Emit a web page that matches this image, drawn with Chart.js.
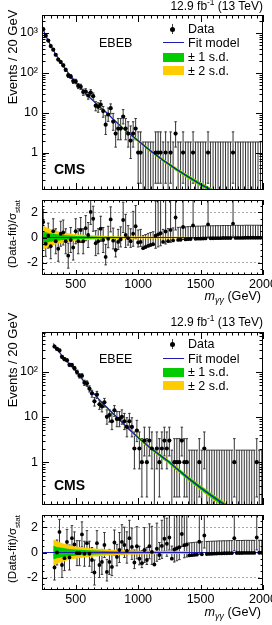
<!DOCTYPE html>
<html>
<head>
<meta charset="utf-8">
<script src="https://cdn.jsdelivr.net/npm/chart.js@4.4.0/dist/chart.umd.min.js"></script>
<style>
  body { margin: 0; background: #fff; width: 272px; height: 625px; position: relative; overflow: hidden;
         font-family: "Liberation Sans", Arial, sans-serif; color: #000; }
  canvas { position: absolute; left: 0; }
  .t { position: absolute; white-space: nowrap; line-height: 1; transform: translateY(-50%); }
  .rot { position: absolute; white-space: nowrap; line-height: 1; transform: translate(-50%, -50%) rotate(-90deg); }
  sub, sup { font-size: 0.7em; line-height: 0; }
  .box { position: absolute; width: 21px; height: 9px; }
  .fitl { position: absolute; width: 21px; height: 0; border-top: 1.5px solid #1c1cb4; }
  .dot { position: absolute; width: 5px; height: 5px; border-radius: 50%; background: #000; }
  .ebar { position: absolute; width: 1px; height: 10px; background: #444; }
</style>
</head>
<body>
<canvas id="ebebMain" width="272" height="195" style="top:0px"></canvas>
<canvas id="ebebPull" width="272" height="100" style="top:195px"></canvas>
<canvas id="ebeeMain" width="272" height="190" style="top:320px"></canvas>
<canvas id="ebeePull" width="272" height="100" style="top:510px"></canvas>

<!-- EBEB text -->
<div class="t" style="right:9px;top:6px;font-size:12px">12.9 fb<sup>-1</sup> (13 TeV)</div>
<div class="rot" style="left:12px;top:57px;font-size:13px">Events / 20 GeV</div>
<div class="t" style="left:99px;top:43px;font-size:12.5px">EBEB</div>
<div class="t" style="left:54px;top:169px;font-size:14px;font-weight:bold">CMS</div>
<div class="ebar" style="left:172px;top:24px"></div><div class="dot" style="left:170px;top:27px"></div>
<div class="t" style="left:188px;top:29px;font-size:12.5px">Data</div>
<div class="fitl" style="left:163px;top:42px"></div>
<div class="t" style="left:188px;top:43px;font-size:12.5px">Fit model</div>
<div class="box" style="left:163px;top:53px;background:#00cc00"></div>
<div class="t" style="left:188px;top:57px;font-size:12.5px">± 1 s.d.</div>
<div class="box" style="left:163px;top:66px;background:#ffcc00"></div>
<div class="t" style="left:188px;top:71px;font-size:12.5px">± 2 s.d.</div>
<div class="rot" style="left:13px;top:234px;font-size:11.5px">(Data-fit)/σ<sub>stat</sub></div>
<div class="t" style="right:11px;top:296px;font-size:12.6px"><i>m</i><sub><i>γγ</i></sub> (GeV)</div>

<!-- EBEE text -->
<div class="t" style="right:9px;top:322px;font-size:12px">12.9 fb<sup>-1</sup> (13 TeV)</div>
<div class="rot" style="left:12px;top:360px;font-size:13px">Events / 20 GeV</div>
<div class="t" style="left:99px;top:359px;font-size:12.5px">EBEE</div>
<div class="t" style="left:54px;top:485px;font-size:14px;font-weight:bold">CMS</div>
<div class="ebar" style="left:172px;top:339px"></div><div class="dot" style="left:170px;top:342px"></div>
<div class="t" style="left:188px;top:344px;font-size:12.5px">Data</div>
<div class="fitl" style="left:163px;top:358px"></div>
<div class="t" style="left:188px;top:359px;font-size:12.5px">Fit model</div>
<div class="box" style="left:163px;top:368px;background:#00cc00"></div>
<div class="t" style="left:188px;top:372px;font-size:12.5px">± 1 s.d.</div>
<div class="box" style="left:163px;top:381px;background:#ffcc00"></div>
<div class="t" style="left:188px;top:386px;font-size:12.5px">± 2 s.d.</div>
<div class="rot" style="left:13px;top:549px;font-size:11.5px">(Data-fit)/σ<sub>stat</sub></div>
<div class="t" style="right:11px;top:612px;font-size:12.6px"><i>m</i><sub><i>γγ</i></sub> (GeV)</div>

<script>
// ---- EBEB (barrel-barrel) ----
const massEBEB = [240,260,280,300,320,340,360,380,400,420,440,460,480,500,520,540,560,580,600,620,
  640,660,680,700,720,740,760,780,800,820,840,860,880,900,920,940,960,980,1000,1020,
  1040,1060,1080,1100,1120,1140,1160,1180,1200,1220,1240,1260,1280,1300,1320,1340,1360,1380,1400,1420,
  1440,1460,1480,1500,1520,1540,1560,1580,1600,1620,1640,1660,1680,1700,1720,1740,1760,1780,1800,1820,
  1840,1860,1880,1900,1920,1940,1960,1980];
const countsEBEB = [1245,852,644,468,381,284,215,187,154,119,
  86,81,62,61,47,45,33,34,27,32,
  26,15,14,16,11,5,9,13,6,3,
  4,4,8,4,3,2,3,4,1,1,
  0,0,0,0,0,1,1,1,0,1,
  0,1,0,3,0,0,1,0,0,0,
  1,0,0,0,0,0,1,0,0,0,
  0,0,0,0,0,0,1,0,0,0,
  0,0,0,0,0,0,0,0];
const pullEBEB = [1.24,-0.5,0.15,-0.7,0.5,-0.3,-0.9,0.3,0.4,-0.3,
  -1.45,-0.2,-0.8,0.5,-0.3,0.6,-0.3,0.75,0.2,2.05,
  1.5,-0.45,-0.3,0.7,-0.2,-1.55,-0.1,1.45,-0.25,-1.0,
  -0.35,-0.15,1.4,0.2,-0.05,-0.3,0.3,0.9,-0.4,-0.35,
  -0.85,-0.76,-0.67,-0.6,-0.54,0.14,0.25,0.34,-0.35,0.48,
  -0.29,0.61,-0.23,1.6,-0.19,-0.18,0.84,-0.15,-0.13,-0.12,
  0.96,-0.1,-0.09,-0.09,-0.08,-0.07,1.05,-0.06,-0.06,-0.05,
  -0.05,-0.05,-0.04,-0.04,-0.04,-0.04,1.1,-0.03,-0.03,-0.03,
  -0.03,-0.02,-0.02,-0.02,-0.02,-0.02,-0.02,-0.02];
const fitMassEBEB = [230,240,260,280,300,340,400,440,500,600,700,750,800,900,1000,1100,1200,1300,1400,1500,1600,1700];
const fitEBEB = [1432,1202,867,640,483,289,149,100,57.7,26.1,13.4,9.86,6.89,3.56,1.98,1.10,0.644,0.392,0.247,0.161,0.108,0.074];
const sd1EBEB = [0.012,0.012,0.012,0.013,0.014,0.015,0.017,0.019,0.022,0.027,0.033,0.037,0.042,0.05,0.06,0.068,0.075,0.082,0.088,0.094,0.1,0.105];
const sd2EBEB = [0.018,0.018,0.018,0.019,0.02,0.022,0.025,0.028,0.032,0.038,0.046,0.052,0.058,0.068,0.08,0.09,0.1,0.108,0.116,0.124,0.132,0.14];
const pullBandMassEBEB = [230,260,300,350,400,450,500,600,700,800,900,1000,1200,1400];
const pullSd1EBEB = [0.5,0.42,0.33,0.26,0.2,0.16,0.13,0.1,0.07,0.055,0.045,0.04,0.035,0.03];
const pullSd2EBEB = [1.0,0.85,0.66,0.52,0.4,0.32,0.26,0.2,0.14,0.11,0.09,0.08,0.07,0.06];

// ---- EBEE (barrel-endcap) ----
const massEBEE = [330,350,370,390,410,430,450,470,490,510,530,550,570,590,610,630,650,670,690,710,
  730,750,770,790,810,830,850,870,890,910,930,950,970,990,1010,1030,1050,1070,1090,1110,
  1130,1150,1170,1190,1210,1230,1250,1270,1290,1310,1330,1350,1370,1390,1410,1430,1450,1470,1490,1510,
  1530,1550,1570,1590,1610,1630,1650,1670,1690,1710,1730,1750,1770,1790,1810,1830,1850,1870,1890,1910,
  1930,1950,1970,1990];
const countsEBEE = [357,317,294,212,188,178,141,140,119,98,
  81,81,57,55,42,33,22,31,19,17,
  21,10,11,8,14,9,9,10,8,6,
  8,6,2,5,2,1,3,1,3,2,
  0,2,1,2,3,2,3,0,1,1,
  1,3,1,1,0,0,0,0,1,0,
  2,0,0,0,0,0,0,0,0,0,
  0,0,1,0,0,0,0,0,0,0,
  0,1,0,0];
const pullEBEE = [-1.2,0.0,1.65,-1.0,-0.45,0.85,-0.4,1.15,0.65,-0.05,
  -0.05,1.45,-0.1,0.75,-0.1,-0.6,-1.6,0.75,-1.0,-0.75,
  0.6,-1.55,-0.75,-1.15,0.8,-0.35,0.2,0.85,0.6,0.15,
  1.15,0.45,-0.8,0.5,-0.5,-0.85,0.2,-0.6,0.5,0.05,
  -0.96,0.3,-0.2,0.53,1.1,0.7,1.2,-0.49,0.24,0.34,
  0.43,1.48,0.58,0.64,-0.23,-0.21,-0.19,-0.17,0.86,-0.14,
  1.36,-0.12,-0.11,-0.1,-0.09,-0.08,-0.07,-0.07,-0.06,-0.06,
  -0.05,-0.05,1.14,-0.04,-0.04,-0.04,-0.03,-0.03,-0.03,-0.03,
  -0.03,1.21,-0.02,-0.02];
const fitMassEBEE = [320,330,350,370,400,450,510,550,600,700,800,830,900,1000,1100,1200,1250,1300,1400,1500,1600,1700,1750];
const fitEBEE = [418,380,317,267,209,146,98.2,68.8,45.6,22.1,11.7,9.86,6.28,3.48,2.04,1.26,1.0,0.756,0.445,0.272,0.171,0.111,0.0905];
const sd1EBEE = [0.014,0.014,0.014,0.014,0.015,0.017,0.019,0.021,0.024,0.03,0.038,0.042,0.048,0.057,0.066,0.075,0.08,0.085,0.093,0.1,0.107,0.113,0.116];
const sd2EBEE = [0.02,0.02,0.02,0.02,0.022,0.024,0.027,0.03,0.034,0.042,0.052,0.058,0.066,0.078,0.09,0.1,0.106,0.112,0.122,0.132,0.142,0.15,0.154];
const pullBandMassEBEE = [320,350,400,450,500,600,700,800,900,1000,1200,1400];
const pullSd1EBEE = [0.55,0.45,0.36,0.29,0.24,0.18,0.14,0.11,0.09,0.075,0.06,0.05];
const pullSd2EBEE = [1.05,0.9,0.72,0.58,0.48,0.36,0.28,0.22,0.18,0.15,0.12,0.1];

// 68% Poisson intervals for small counts
const poisLo = [0, 0.17, 0.71, 1.37, 2.09, 2.84, 3.62, 4.42, 5.23, 6.06, 6.89];
const poisHi = [1.84, 3.30, 4.64, 5.92, 7.16, 8.38, 9.58, 10.77, 11.95, 13.11, 14.27];

const FONT = '"Liberation Sans", Arial, sans-serif';
const BLUE = '#1c1cb4', GREEN = '#00cc00', YELLOW = '#ffcc00', BAR = '#333';
const X_MIN = 230, X_MAX = 2000;

function interval(n) {
  if (n <= 10) return [poisLo[n], poisHi[n]];
  const s = Math.sqrt(n);
  return [n - s, n + s];
}

const noLine = { borderColor: 'rgba(0,0,0,0)', borderWidth: 0, pointRadius: 0 };

function bandSets(xs, lower, upper, color, order) {
  return [
    Object.assign({ type: 'line', data: xs.map((x, i) => ({ x: x, y: upper[i] })), fill: false, order: order }, noLine),
    Object.assign({ type: 'line', data: xs.map((x, i) => ({ x: x, y: lower[i] })), fill: '-1', backgroundColor: color, order: order }, noLine)
  ];
}

function errorSets(mass, lows, highs, showLowCap) {
  const bars = [], caps = [];
  mass.forEach((m, i) => {
    bars.push({ x: m, y: lows[i] }, { x: m, y: highs[i] }, { x: m, y: null });
    caps.push({ x: m, y: highs[i] });
    if (showLowCap[i]) caps.push({ x: m, y: lows[i] });
  });
  return [
    { type: 'line', data: bars, borderColor: BAR, borderWidth: 1, pointRadius: 0, spanGaps: false, fill: false, order: 5 },
    { type: 'scatter', data: caps, pointStyle: 'line', pointRadius: 1.25, pointBorderWidth: 1, pointBorderColor: BAR, order: 5 }
  ];
}

function mainSets(mass, counts, fitMass, fit, sd1, sd2, yMin) {
  const lows = [], highs = [], pts = [];
  counts.forEach((n, i) => {
    const iv = interval(n);
    lows.push(n > 0 ? iv[0] : yMin / 3);
    highs.push(iv[1]);
    if (n > 0) pts.push({ x: mass[i], y: n });
  });
  const up = (sd) => fit.map((f, i) => f * (1 + sd[i]));
  const dn = (sd) => fit.map((f, i) => f * (1 - sd[i]));
  return [
    { type: 'scatter', data: pts, pointRadius: 2.1, backgroundColor: '#000', borderWidth: 0, order: 0 },
    { type: 'line', data: fitMass.map((m, i) => ({ x: m, y: fit[i] })), borderColor: BLUE, borderWidth: 1.2, pointRadius: 0, fill: false, order: 1 },
    ...bandSets(fitMass, dn(sd1), up(sd1), GREEN, 2),
    ...bandSets(fitMass, dn(sd2), up(sd2), YELLOW, 3),
    ...errorSets(mass, lows, highs, counts.map(n => n > 0))
  ];
}

function pullSets(mass, counts, pull, bandMass, b1, b2) {
  const lows = [], highs = [];
  counts.forEach((n, i) => {
    const r = pull[i], iv = interval(n);
    let up = 1, dn = 1;
    if (r >= 0 && n > 0) up = (iv[1] - n) / (n - iv[0]);
    else dn = n > 0 ? (n - iv[0]) / (iv[1] - n) : 0;
    lows.push(r - dn);
    highs.push(r + up);
  });
  const neg = (a) => a.map(v => -v);
  const flat = (y) => ({ type: 'line', data: [{ x: X_MIN, y: y }, { x: X_MAX, y: y }], borderColor: '#aaa',
                         borderDash: [2, 2], borderWidth: 1, pointRadius: 0, fill: false, order: 6 });
  return [
    { type: 'scatter', data: mass.map((m, i) => ({ x: m, y: pull[i] })), pointRadius: 1.9, backgroundColor: '#000', borderWidth: 0, order: 0 },
    { type: 'line', data: [{ x: X_MIN, y: 0 }, { x: X_MAX, y: 0 }], borderColor: BLUE, borderWidth: 1.2, pointRadius: 0, fill: false, order: 1 },
    ...bandSets(bandMass, neg(b1), b1, GREEN, 2),
    ...bandSets(bandMass, neg(b2), b2, YELLOW, 3),
    ...errorSets(mass, lows, highs, counts.map(() => true)),
    flat(2), flat(-2)
  ];
}

// inward tick marks on all four sides plus the frame
const frameTicks = {
  id: 'frameTicks',
  afterDatasetsDraw(chart, args, opts) {
    const { ctx, chartArea: a, scales } = chart;
    ctx.save();
    ctx.strokeStyle = '#000';
    ctx.lineWidth = 1;
    ctx.beginPath();
    opts.xTicks.forEach(([v, len]) => {
      const px = Math.round(scales.x.getPixelForValue(v)) + 0.5;
      ctx.moveTo(px, a.bottom); ctx.lineTo(px, a.bottom - len);
      ctx.moveTo(px, a.top); ctx.lineTo(px, a.top + len);
    });
    opts.yTicks.forEach(([v, len]) => {
      const py = Math.round(scales.y.getPixelForValue(v)) + 0.5;
      ctx.moveTo(a.left, py); ctx.lineTo(a.left + len, py);
      ctx.moveTo(a.right, py); ctx.lineTo(a.right - len, py);
    });
    ctx.stroke();
    ctx.strokeRect(Math.round(a.left) + 0.5, Math.round(a.top) + 0.5,
                   Math.round(a.right - a.left) - 1, Math.round(a.bottom - a.top) - 1);
    ctx.restore();
  }
};

function xTickList(major) {
  const out = [];
  for (let v = 250; v <= X_MAX; v += 50) out.push([v, v % 500 === 0 ? major : major / 2]);
  return out;
}
function logTickList(min, max) {
  const out = [];
  for (let d = -1; d <= 3; d++) for (let k = 1; k <= 9; k++) {
    const v = k * Math.pow(10, d);
    if (v >= min && v <= max) out.push([v, k === 1 ? 7 : 3.5]);
  }
  return out;
}
function pullTickList() {
  const out = [];
  for (let v = -2.5; v <= 2.5; v += 0.5) out.push([v, v % 2 === 0 ? 5 : 2.5]);
  return out;
}

const tickFont = { family: FONT, size: 12.5 };
const yWidth = (s) => { s.width = 42; s.paddingTop = 0; s.paddingBottom = 0; };

function mainChart(id, sets, yMin, yMax, labels, padTop) {
  return new Chart(document.getElementById(id), {
    type: 'scatter',
    data: { datasets: sets },
    options: {
      responsive: false, animation: false, devicePixelRatio: 1, events: [],
      layout: { padding: { top: padTop, right: 9, bottom: 2, left: 0 } },
      plugins: { legend: { display: false }, tooltip: { enabled: false },
                 frameTicks: { xTicks: xTickList(7), yTicks: logTickList(yMin, yMax) } },
      scales: {
        x: { type: 'linear', min: X_MIN, max: X_MAX, display: false },
        y: { type: 'logarithmic', min: yMin, max: yMax, afterFit: yWidth,
             afterBuildTicks: (s) => { s.ticks = Object.keys(labels).map(v => ({ value: +v })); },
             ticks: { callback: (v) => labels[v], font: tickFont, color: '#000', padding: 4, autoSkip: false },
             grid: { display: false, drawTicks: false }, border: { display: false } }
      }
    },
    plugins: [frameTicks]
  });
}

function pullChart(id, sets, padTop) {
  return new Chart(document.getElementById(id), {
    type: 'scatter',
    data: { datasets: sets },
    options: {
      responsive: false, animation: false, devicePixelRatio: 1, events: [],
      layout: { padding: { top: padTop, right: 9, bottom: 0, left: 0 } },
      plugins: { legend: { display: false }, tooltip: { enabled: false },
                 frameTicks: { xTicks: xTickList(5), yTicks: pullTickList() } },
      scales: {
        x: { type: 'linear', min: X_MIN, max: X_MAX,
             afterFit: (s) => { s.height = 20; s.paddingLeft = 0; s.paddingRight = 0; },
             afterBuildTicks: (s) => { s.ticks = [500, 1000, 1500, 2000].map(v => ({ value: v })); },
             ticks: { callback: (v) => String(v), font: tickFont, color: '#000', padding: 2, autoSkip: false, maxRotation: 0 },
             grid: { display: false, drawTicks: false }, border: { display: false } },
        y: { type: 'linear', min: -3, max: 3, afterFit: yWidth,
             afterBuildTicks: (s) => { s.ticks = [-2, 0, 2].map(v => ({ value: v })); },
             ticks: { callback: (v) => String(v), font: tickFont, color: '#000', padding: 4, autoSkip: false },
             grid: { display: false, drawTicks: false }, border: { display: false } }
      }
    },
    plugins: [frameTicks]
  });
}

const labelsEBEB = { 1: '1', 10: '10', 100: '10²', 1000: '10³' };
const labelsEBEE = { 1: '1', 10: '10', 100: '10²' };

mainChart('ebebMain', mainSets(massEBEB, countsEBEB, fitMassEBEB, fitEBEB, sd1EBEB, sd2EBEB, 0.115),
          0.115, 2820, labelsEBEB, 15);
pullChart('ebebPull', pullSets(massEBEB, countsEBEB, pullEBEB, pullBandMassEBEB, pullSd1EBEB, pullSd2EBEB), 2);
mainChart('ebeeMain', mainSets(massEBEE, countsEBEE, fitMassEBEE, fitEBEE, sd1EBEE, sd2EBEE, 0.113),
          0.113, 750, labelsEBEE, 12);
pullChart('ebeePull', pullSets(massEBEE, countsEBEE, pullEBEE, pullBandMassEBEE, pullSd1EBEE, pullSd2EBEE), 3);
</script>
</body>
</html>
